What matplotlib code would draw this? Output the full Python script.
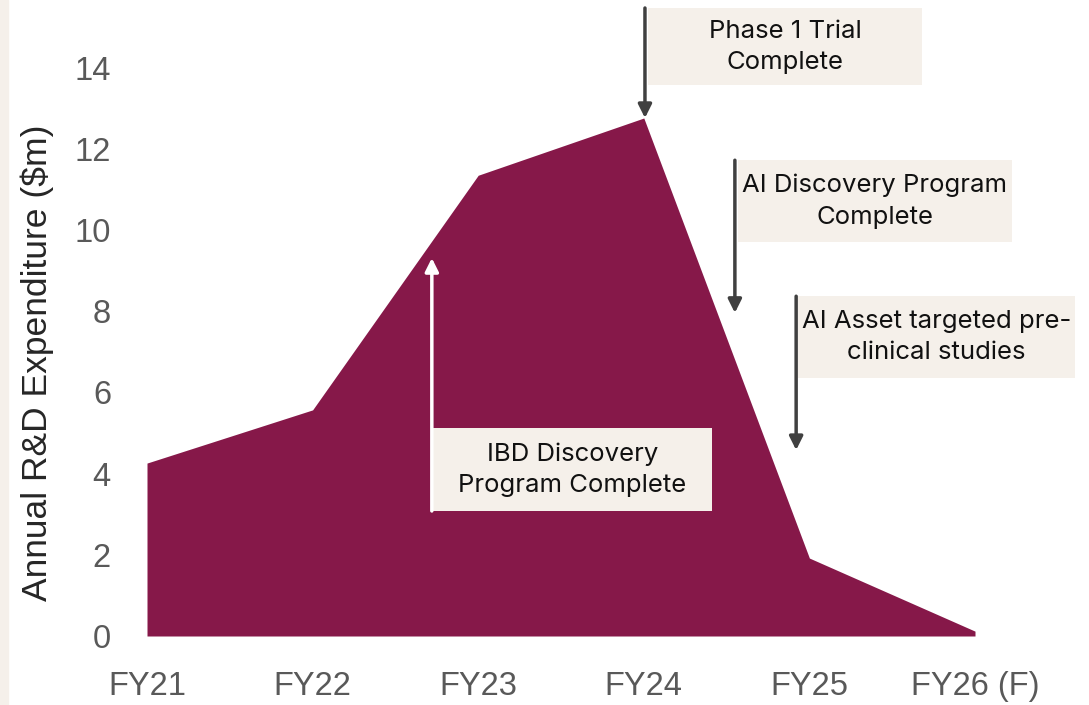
import matplotlib
matplotlib.use("agg")
import matplotlib.pyplot as plt
from matplotlib.patches import Rectangle

# chart data
years = ["FY21", "FY22", "FY23", "FY24", "FY25", "FY26 (F)"]
spend = [4.26, 5.57, 11.35, 12.76, 1.92, 0.12]

# milestone notes: text, box (x0, x1, y0, y1) in data units, arrow x, arrow tip y
notes = ["Phase 1 Trial\nComplete",
         "AI Discovery Program\nComplete",
         "AI Asset targeted pre-\nclinical studies",
         "IBD Discovery\nProgram Complete"]
boxes = [(3.025, 4.68, 13.57, 15.47),
         (3.569, 5.223, 9.70, 11.72),
         (3.931, 5.604, 6.35, 8.37),
         (1.727, 3.41, 3.08, 5.12)]
arrow_x = [3.007, 3.55, 3.92, 1.72]
arrow_tip = [12.76, 7.96, 4.58, 9.31]
arrow_colors = ["#404040", "#404040", "#404040", "white"]

FILL = "#861849"
BEIGE = "#F5F0EA"
GREY = "#595959"

fig = plt.figure(figsize=(10.89, 7.05), dpi=100)
fig.patches.append(Rectangle((0, 0), 8 / 1089, 1, transform=fig.transFigure,
                             color=BEIGE, zorder=0))

ax = fig.add_axes([147 / 1089, 69 / 705, 828 / 1089, 628 / 705])
x = list(range(len(years)))
ax.fill_between(x, 0, spend, color=FILL, linewidth=0, zorder=1)
ax.set_xlim(0, len(years) - 1)
ax.set_ylim(0, 15.47)

for s in ax.spines.values():
    s.set_visible(False)
ax.set_xticks(x, years)
ax.set_yticks(range(0, 15, 2))
ax.tick_params(length=0, labelsize=23.5, labelcolor=GREY)
ax.tick_params(axis="x", pad=25)
ax.tick_params(axis="y", pad=26)
for lbl in ax.get_xticklabels() + ax.get_yticklabels():
    lbl.set_fontfamily("Liberation Sans")
ax.set_ylabel("Annual R&D Expenditure ($m)", fontsize=25.5, color="#262626",
              family="Liberation Sans", va="center")
ax.yaxis.set_label_coords(-0.133, 0.435)

for text, (x0, x1, y0, y1), ax_x, tip, col in zip(notes, boxes, arrow_x, arrow_tip, arrow_colors):
    ax.add_patch(Rectangle((x0, y0), x1 - x0, y1 - y0, facecolor=BEIGE,
                           edgecolor="none", zorder=2, clip_on=False))
    ax.text((x0 + x1) / 2, (y0 + y1) / 2, text, ha="center", va="center",
            fontsize=18.5, family="Inter", color="#111111", linespacing=1.45,
            zorder=3, clip_on=False)
    start = y1 if col != "white" else y0
    ax.annotate("", xy=(ax_x, tip), xytext=(ax_x, start),
                arrowprops=dict(arrowstyle="-|>", color=col, lw=2.5,
                                mutation_scale=20, shrinkA=0, shrinkB=0),
                zorder=4, annotation_clip=False)

fig.savefig("out.png", dpi=100, facecolor="white")
